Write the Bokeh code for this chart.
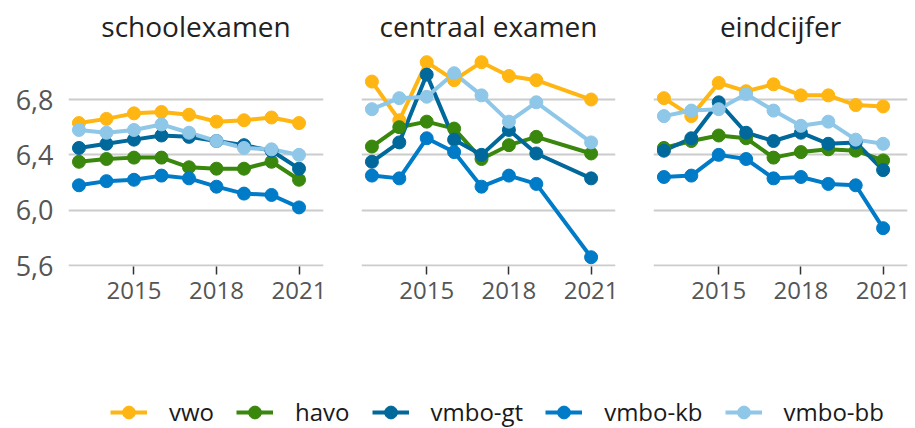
from bokeh.plotting import figure
from bokeh.layouts import row, column
from bokeh.models import (FixedTicker, CustomJSTickFormatter, Range1d, Legend, LegendItem)
from bokeh.embed import file_html
from bokeh.resources import INLINE

years = [2013, 2014, 2015, 2016, 2017, 2018, 2019, 2020, 2021]
ce_years = [2013, 2014, 2015, 2016, 2017, 2018, 2019, 2021]

series = ["vwo", "havo", "vmbo-gt", "vmbo-kb", "vmbo-bb"]
colors = ["#FFB612", "#39870C", "#01689B", "#007BC7", "#8FC7E8"]

se_vwo = [6.63, 6.66, 6.70, 6.71, 6.69, 6.64, 6.65, 6.67, 6.63]
se_havo = [6.35, 6.37, 6.38, 6.38, 6.31, 6.30, 6.30, 6.35, 6.22]
se_gt = [6.45, 6.48, 6.51, 6.54, 6.53, 6.50, 6.47, 6.43, 6.30]
se_kb = [6.18, 6.21, 6.22, 6.25, 6.23, 6.17, 6.12, 6.11, 6.02]
se_bb = [6.58, 6.56, 6.58, 6.62, 6.56, 6.50, 6.45, 6.44, 6.40]

ce_vwo = [6.93, 6.65, 7.07, 6.94, 7.07, 6.97, 6.94, 6.80]
ce_havo = [6.46, 6.60, 6.64, 6.59, 6.37, 6.47, 6.53, 6.41]
ce_gt = [6.35, 6.49, 6.98, 6.51, 6.40, 6.58, 6.41, 6.23]
ce_kb = [6.25, 6.23, 6.52, 6.42, 6.17, 6.25, 6.19, 5.66]
ce_bb = [6.73, 6.81, 6.82, 6.99, 6.83, 6.64, 6.78, 6.49]

ec_vwo = [6.81, 6.68, 6.92, 6.86, 6.91, 6.83, 6.83, 6.76, 6.75]
ec_havo = [6.45, 6.50, 6.54, 6.52, 6.38, 6.42, 6.44, 6.43, 6.36]
ec_gt = [6.43, 6.52, 6.78, 6.56, 6.50, 6.56, 6.48, 6.49, 6.29]
ec_kb = [6.24, 6.25, 6.40, 6.37, 6.23, 6.24, 6.19, 6.18, 5.87]
ec_bb = [6.68, 6.72, 6.73, 6.84, 6.72, 6.61, 6.64, 6.51, 6.48]

x_ticks = [2015, 2018, 2021]
y_ticks = [5.6, 6.0, 6.4, 6.8]

panels = [
    ("schoolexamen", years, [se_vwo, se_havo, se_gt, se_kb, se_bb]),
    ("centraal examen", ce_years, [ce_vwo, ce_havo, ce_gt, ce_kb, ce_bb]),
    ("eindcijfer", years, [ec_vwo, ec_havo, ec_gt, ec_kb, ec_bb]),
]

FONT = "Open Sans"
TOP = 47
FRAME_H = 219
FIG_H = 314
figs = []
for i, (title, xs, data) in enumerate(panels):
    left = 68 if i == 0 else 19
    right = 8 if i == 2 else 19
    fw = 255 if i == 0 else 254
    p = figure(width=left + fw + right, height=FIG_H, output_backend="svg", toolbar_location=None,
               x_range=Range1d(2012.62, 2021.89), y_range=Range1d(5.593, 7.176),
               min_border_left=left, min_border_right=right,
               min_border_top=TOP, min_border_bottom=FIG_H - TOP - FRAME_H,
               title=title)
    p.title.align = "center"
    p.title.text_font = FONT
    p.title.text_font_size = "28px"
    p.title.text_font_style = "normal"
    p.title.text_color = "#222222"
    p.title.standoff = 6
    p.outline_line_color = None
    p.xgrid.visible = False
    p.ygrid.ticker = FixedTicker(ticks=y_ticks)
    p.ygrid.grid_line_color = "#cccccc"
    p.ygrid.grid_line_width = 2

    p.xaxis.ticker = FixedTicker(ticks=x_ticks)
    p.xaxis.axis_line_color = None
    p.xaxis.major_tick_line_color = "#333333"
    p.xaxis.major_tick_line_width = 1.5
    p.xaxis.major_tick_out = 8
    p.xaxis.major_tick_in = 0
    p.xaxis.minor_tick_line_color = None
    p.xaxis.major_label_standoff = 7
    p.xaxis.major_label_text_font = FONT
    p.xaxis.major_label_text_font_size = "24px"
    p.xaxis.major_label_text_color = "#555555"

    if i == 0:
        p.yaxis.ticker = FixedTicker(ticks=y_ticks)
        p.yaxis.formatter = CustomJSTickFormatter(code="return tick.toFixed(1).replace('.', ',');")
        p.yaxis.axis_line_color = None
        p.yaxis.major_tick_line_color = None
        p.yaxis.minor_tick_line_color = None
        p.yaxis.major_tick_out = 0
        p.yaxis.major_tick_in = 0
        p.yaxis.major_label_standoff = 15
        p.yaxis.major_label_text_font = FONT
        p.yaxis.major_label_text_font_size = "27px"
        p.yaxis.major_label_text_color = "#555555"
    else:
        p.yaxis.visible = False

    for ys, c in zip(data, colors):
        p.line(xs, ys, line_color=c, line_width=4)
    for ys, c in zip(data, colors):
        p.scatter(xs, ys, size=13, fill_color=c, line_color=c)
    figs.append(p)

LEG_H = 428 - FIG_H
leg = figure(width=915, height=LEG_H, output_backend="svg", toolbar_location=None,
             x_range=Range1d(0, 1), y_range=Range1d(0, 1),
             x_axis_location=None, y_axis_location=None,
             min_border=0, min_border_left=0, min_border_right=0,
             min_border_top=0, min_border_bottom=0)
leg.outline_line_color = None
leg.xgrid.visible = False
leg.ygrid.visible = False
nan = float("nan")
items = []
for name, c in zip(series, colors):
    lr = leg.line(x=[nan], y=[nan], line_color=c, line_width=4)
    sr = leg.scatter(x=[nan], y=[nan], size=13, fill_color=c, line_color=c)
    items.append(LegendItem(label=name, renderers=[lr, sr]))
legend = Legend(items=items, orientation="horizontal", location=(110, 0),
                border_line_color=None, background_fill_alpha=0,
                padding=0, margin=0, spacing=22, label_standoff=22,
                glyph_width=37, glyph_height=32,
                label_text_font=FONT, label_text_font_size="24px",
                label_text_color="#1a1a1a")
leg.add_layout(legend)

layout = column(row(*figs), leg)
open("out.html", "w").write(file_html(layout, INLINE))
